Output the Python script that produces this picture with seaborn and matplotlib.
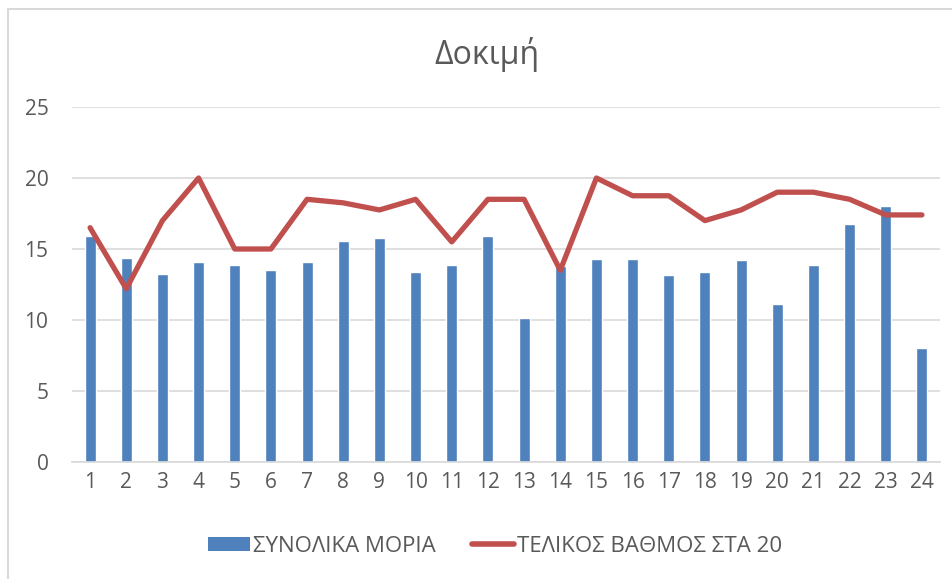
import numpy as np
import pandas as pd
import matplotlib
matplotlib.use("Agg")
import matplotlib.pyplot as plt
import seaborn as sns
from matplotlib.patches import Rectangle, Patch
from matplotlib.lines import Line2D

# ==============================
# Data
# ==============================
students = [str(i) for i in range(1, 25)]
synolika_moria = [15.95, 14.4, 13.25, 14.1, 13.9, 13.55, 14.1, 15.55, 15.8, 13.35,
                  13.9, 15.95, 10.15, 13.8, 14.3, 14.3, 13.15, 13.4, 14.2, 11.1,
                  13.9, 16.75, 18.0, 8.0]
telikos_vathmos = [16.5, 12.2, 17.0, 20.0, 15.0, 15.0, 18.5, 18.25, 17.75, 18.5,
                   15.5, 18.5, 18.5, 13.5, 20.0, 18.75, 18.75, 17.0, 17.75, 19.0,
                   19.0, 18.5, 17.4, 17.4]

bar_label = "ΣΥΝΟΛΙΚΑ ΜΟΡΙΑ"
line_label = "ΤΕΛΙΚΟΣ ΒΑΘΜΟΣ ΣΤΑ 20"
title = "Δοκιμή"

df = pd.DataFrame({"student": students,
                   "moria": synolika_moria,
                   "vathmos": telikos_vathmos})
df["pos"] = np.arange(len(df))

# ==============================
# Style
# ==============================
sns.set_theme(style="white")
plt.rcParams["font.family"] = ["Open Sans", "DejaVu Sans"]

bar_color = "#4F81BD"
line_color = "#C0504D"
text_color = "#595959"
grid_color = "#D9D9D9"

fig = plt.figure(figsize=(9.53, 5.79), dpi=100)
ax = fig.add_axes([72 / 953, 117 / 579, 868 / 953, 355 / 579])

# chart area border
fig.patches.append(Rectangle((8 / 953, -0.05), 1.0, (579 - 9) / 579 + 0.05,
                             transform=fig.transFigure, fill=False,
                             edgecolor=grid_color, linewidth=1.5))

sns.barplot(data=df, x="student", y="moria", color=bar_color, width=0.3,
            saturation=1, ax=ax, zorder=2)
sns.lineplot(data=df, x="pos", y="vathmos", color=line_color, linewidth=3.8,
             ax=ax, zorder=3, solid_capstyle="round")

ax.set_xlim(-0.5, len(df) - 0.5)
ax.set_ylim(0, 25)
ax.set_yticks([0, 5, 10, 15, 20, 25])
ax.yaxis.grid(True, color=grid_color, linewidth=1.2, zorder=0)
ax.set_axisbelow(True)
for s in ["top", "right", "left"]:
    ax.spines[s].set_visible(False)
ax.spines["bottom"].set_color(grid_color)
ax.spines["bottom"].set_linewidth(1.2)
ax.set_xlabel("")
ax.set_ylabel("")
ax.set_xticks(df["pos"])
ax.set_xticklabels(students)
ax.tick_params(axis="both", length=0, labelsize=15, labelcolor=text_color)
ax.tick_params(axis="y", pad=17)
ax.tick_params(axis="x", pad=7)

fig.text(487 / 953, 1 - 55 / 579, title, ha="center", va="center",
         fontsize=23, color=text_color)

handles = [Patch(facecolor=bar_color, edgecolor="none"),
           Line2D([0], [0], color=line_color, linewidth=4, solid_capstyle="round")]
fig.legend(handles, [bar_label, line_label], loc="center",
           bbox_to_anchor=(495 / 953, 1 - 546 / 579), ncol=2, frameon=False,
           fontsize=16, labelcolor=text_color, handlelength=1.9,
           handleheight=0.6, handletextpad=0.15, columnspacing=1.6)

fig.savefig("out.png", dpi=100)
